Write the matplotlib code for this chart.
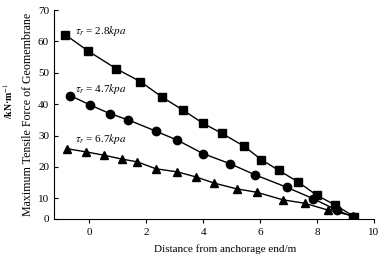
import matplotlib.pyplot as plt

plt.rcParams['font.family'] = 'Liberation Serif'
plt.rcParams['mathtext.fontset'] = 'stix'

# tau_r = 2.8 kPa (squares)
x_28 = [-0.86, -0.04, 0.94, 1.79, 2.56, 3.27, 3.99, 4.65, 5.43, 6.04, 6.65, 7.33, 7.98, 8.64, 9.31]
y_28 = [62.2, 56.9, 51.3, 47.2, 42.2, 38.2, 33.9, 30.7, 26.6, 22.3, 18.9, 15.2, 11.0, 7.8, 4.1]
# tau_r = 4.7 kPa (circles)
x_47 = [-0.67, 0.01, 0.71, 1.36, 2.33, 3.09, 4.0, 4.94, 5.81, 6.93, 7.85, 8.69, 9.25]
y_47 = [42.7, 39.8, 37.0, 35.0, 31.4, 28.5, 24.2, 21.0, 17.5, 13.5, 9.9, 6.2, 4.1]
# tau_r = 6.7 kPa (triangles)
x_67 = [-0.8, -0.13, 0.52, 1.13, 1.68, 2.33, 3.09, 3.74, 4.39, 5.17, 5.88, 6.79, 7.56, 8.39, 9.25]
y_67 = [25.8, 24.8, 23.7, 22.5, 21.6, 19.4, 18.4, 16.8, 14.8, 13.0, 11.9, 9.5, 8.4, 6.2, 4.4]

y_ticks = [3.4, 10, 20, 30, 40, 50, 60, 70]
y_ticklabels = ['0', '10', '20', '30', '40', '50', '60', '70']
x_ticks = [0, 2, 4, 6, 8, 10]

fig = plt.figure(figsize=(3.88, 2.66), dpi=100)
ax = fig.add_axes([0.139, 0.177, 0.825, 0.785])

ax.plot(x_28, y_28, color='black', lw=1, marker='s', ms=6)
ax.plot(x_47, y_47, color='black', lw=1, marker='o', ms=6)
ax.plot(x_67, y_67, color='black', lw=1, marker='^', ms=6)

ax.text(-0.5, 62.5, r'$\tau_r$ = 2.8$kpa$', fontsize=8)
ax.text(-0.5, 44.0, r'$\tau_r$ = 4.7$kpa$', fontsize=8)
ax.text(-0.5, 27.8, r'$\tau_r$ = 6.7$kpa$', fontsize=8)

ax.set_xlim(-1.25, 10)
ax.set_ylim(3.4, 70)
ax.set_xticks(x_ticks)
ax.set_yticks(y_ticks)
ax.set_yticklabels(y_ticklabels)
ax.tick_params(axis='x', direction='out', length=3, labelsize=8, width=0.8)
ax.tick_params(axis='y', direction='in', length=3, labelsize=8, width=0.8)
ax.spines['top'].set_visible(False)
ax.spines['right'].set_visible(False)

ax.set_xlabel('Distance from anchorage end/m', fontsize=8, labelpad=6)
ax.xaxis.set_label_coords(0.534, -0.12)
ax.set_ylabel('Maximum Tensile Force of Geomembrane', fontsize=8.6, labelpad=3)
fig.text(0.022, 0.62, '/kN·m$^{-1}$', rotation=90, fontsize=7, fontweight='bold',
         ha='center', va='center')

fig.savefig('out.png', dpi=100)
